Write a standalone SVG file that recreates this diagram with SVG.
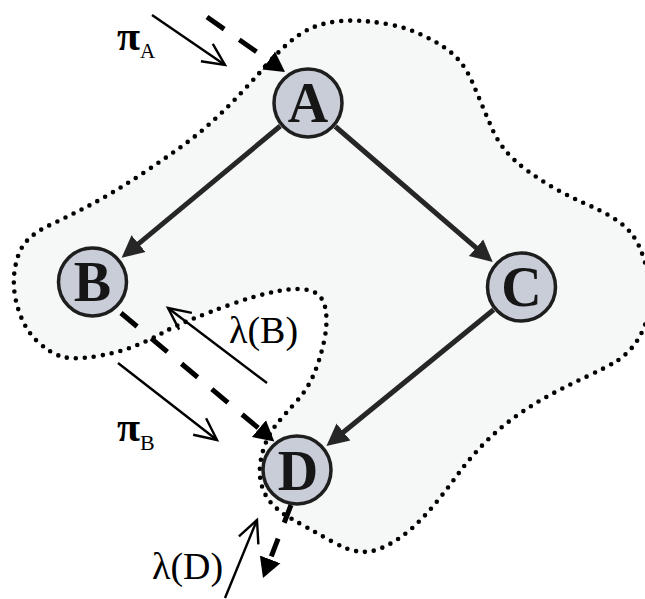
<svg xmlns="http://www.w3.org/2000/svg" width="645" height="599" viewBox="0 0 645 599">
<style>
.blob{fill:#f6f7f7;stroke:#000;stroke-width:4.6;stroke-dasharray:0 9;stroke-linecap:round;stroke-linejoin:round}
.node circle{fill:#c9cdd8;stroke:#1e1e1e;stroke-width:3.5}
.node text{font-family:"Liberation Serif","Times New Roman",serif;font-weight:bold;font-size:56px;fill:#161616;text-anchor:middle}
.edge{stroke:#262626;stroke-width:5;fill:none}
.dash{stroke:#000;stroke-width:5;fill:none;stroke-dasharray:21 18.5}
.thin{stroke:#000;stroke-width:2.4;fill:none}
.lbl{font-family:"Liberation Serif","Times New Roman",serif;font-size:38px;fill:#000}
.pi{font-family:"Liberation Serif","Times New Roman",serif;font-size:42px;font-weight:bold;fill:#000}
.sub{font-weight:normal;font-size:21px}
</style>
<defs>
<marker id="head" markerUnits="userSpaceOnUse" viewBox="0 -12 24 24" refX="1" refY="0" markerWidth="24" markerHeight="24" orient="auto">
<path d="M0,-11 L22,0 L0,11 Z" fill="#262626"/>
</marker>
<marker id="headK" markerUnits="userSpaceOnUse" viewBox="0 -13 22 26" refX="1" refY="0" markerWidth="22" markerHeight="26" orient="auto">
<path d="M0,-11 L20,0 L0,11 Z" fill="#000"/>
</marker>
<marker id="open" markerUnits="userSpaceOnUse" viewBox="-25 -13 28 26" refX="0" refY="0" markerWidth="28" markerHeight="26" orient="auto">
<path d="M-22,-10.5 L0,0 L-22,10.5" fill="none" stroke="#000" stroke-width="2.4"/>
</marker>
</defs>

<path id="region" class="blob" d="M266,65.5 Q277,53 288.5,43 Q300,33 311.5,28 Q323,23 336.5,21.5 Q350,20 363.5,21 Q377,22 392,25 Q407,28 420,34 Q433,40 443,46.5 Q453,53 460,61.5 Q467,70 472,81.5 Q477,93 482,105 Q487,117 492,128.5 Q497,140 505,150 Q513,160 526.5,170 Q540,180 555,188.5 Q570,197 585,203.5 Q600,210 612.5,217.5 Q625,225 632.5,235 Q640,245 645,262.5 Q650,280 650,296 Q650,312 645,325 Q640,338 632.5,347 Q625,356 616,361.5 Q607,367 590,375 Q573,383 556.5,391.5 Q540,400 525,410 Q510,420 498.5,430 Q487,440 477,451 Q467,462 458.5,473.5 Q450,485 441,496.5 Q432,508 422.5,518 Q413,528 403,535.5 Q393,543 381.5,548 Q370,553 358.5,551.5 Q347,550 332,541.5 Q317,533 307,527.5 Q297,522 288.5,517 Q280,512 273,505 Q266,498 262.5,488 Q259,478 260,466.5 Q261,455 265.5,443.5 Q270,432 277.5,423 Q285,414 296,402 Q307,390 313.5,375 Q320,360 324,341.5 Q328,323 325.5,309 Q323,295 311.5,291 Q300,287 278.5,291 Q257,295 232,304 Q207,313 190,320 Q173,327 161.5,333.5 Q150,340 133.5,346.5 Q117,353 95,356.5 Q73,360 61.5,356.5 Q50,353 37.5,341.5 Q25,330 18.5,310 Q12,290 14.5,271.5 Q17,253 25,243 Q33,233 50,225 Q67,217 83.5,208.5 Q100,200 116.5,190 Q133,180 150,168.5 Q167,157 183.5,145 Q200,133 215,119 Q230,105 242.5,91.5 Q255,78 266,65.5 Z"/>

<g id="connectors">
<line id="A-B" class="edge" x1="280.3" y1="126" x2="137.8" y2="244.3" marker-end="url(#head)"/>
<line id="A-C" class="edge" x1="335.3" y1="126.5" x2="476.8" y2="248.4" marker-end="url(#head)"/>
<line id="C-D" class="edge" x1="493.6" y1="309.8" x2="342.7" y2="432.7" marker-end="url(#head)"/>
<line id="B-D" class="dash" x1="121" y1="313" x2="259.7" y2="429.2" marker-end="url(#headK)"/>
<line id="in-A" class="dash" x1="207" y1="17" x2="269.5" y2="61" marker-end="url(#headK)"/>
<line id="out-D" class="dash" style="stroke-dasharray:19 17" x1="291" y1="505" x2="269.8" y2="560.3" marker-end="url(#headK)"/>
<line id="piA" class="thin" x1="152" y1="15" x2="225" y2="65" marker-end="url(#open)"/>
<line id="piB" class="thin" x1="118" y1="363" x2="217" y2="440" marker-end="url(#open)"/>
<line id="lamB" class="thin" x1="267" y1="383" x2="168" y2="308" marker-end="url(#open)"/>
<line id="lamD" class="thin" x1="225" y1="598" x2="257" y2="520" marker-end="url(#open)"/>
</g>

<g id="node-A" class="node"><circle cx="308" cy="103" r="34"/><text x="308" y="122">A</text></g>
<g id="node-B" class="node"><circle cx="92.5" cy="282" r="34"/><text x="92.5" y="301">B</text></g>
<g id="node-C" class="node"><circle cx="521.5" cy="287" r="34"/><text x="521.5" y="306">C</text></g>
<g id="node-D" class="node"><circle cx="297" cy="470" r="34"/><text x="298" y="490">D</text></g>

<g id="labels">
<text class="pi" x="117" y="50">π<tspan class="sub" dy="8">A</tspan></text>
<text class="pi" x="117" y="441">π<tspan class="sub" style="font-size:22px" dy="9">B</tspan></text>
<text class="lbl" x="229" y="343">λ(B)</text>
<text class="lbl" x="152" y="579">λ(D)</text>
</g>
</svg>
